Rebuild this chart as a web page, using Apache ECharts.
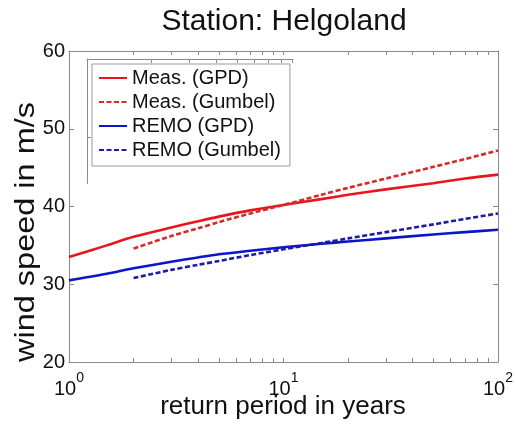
<!DOCTYPE html>
<html>
<head>
<meta charset="utf-8">
<script src="https://cdn.jsdelivr.net/npm/echarts@6/dist/echarts.min.js"></script>
<style>
  html, body { margin: 0; padding: 0; background: #fff; }
  #chart { width: 516px; height: 425px; }
</style>
</head>
<body>
<div id="chart"></div>
<script>
// Return-level curves for Helgoland (wind speed vs. return period)
const titleText = 'Station: Helgoland';
const xName = 'return period in years';
const yName = 'wind speed in m/s';
const seriesNames = ['Meas. (GPD)', 'Meas. (Gumbel)', 'REMO (GPD)', 'REMO (Gumbel)'];

// GPD fits: return period (years) and return level (m/s)
const gpdPeriods = [1, 1.5, 2, 3, 4, 5, 7, 10, 15, 20, 30, 50, 70, 100];
const measGpd    = [33.5, 35.0, 36.1, 37.3, 38.1, 38.7, 39.5, 40.2, 40.95, 41.5, 42.2, 43.0, 43.6, 44.1];
const remoGpd    = [30.5, 31.35, 32.05, 32.9, 33.45, 33.85, 34.3, 34.75, 35.2, 35.5, 35.9, 36.4, 36.7, 37.0];

// Gumbel fits start at a 2-year return period
const gumbelPeriods = [2, 3, 4, 5, 7, 10, 15, 20, 30, 50, 70, 100];
const measGumbel    = [34.6, 36.2, 37.2, 38.0, 39.1, 40.2, 41.5, 42.4, 43.6, 45.1, 46.1, 47.2];
const remoGumbel    = [30.8, 31.85, 32.5, 33.0, 33.75, 34.5, 35.3, 35.9, 36.7, 37.7, 38.4, 39.1];

// Axis ticks
const yTicks = [20, 30, 40, 50, 60];
const xTickValues = [1, 2, 3, 4, 5, 6, 7, 8, 9, 10, 20, 30, 40, 50, 60, 70, 80, 90, 100];
const xLabelValues = [1, 10, 100];

const FONT = '"Liberation Sans", Arial, Helvetica, sans-serif';
const AXIS_GRAY = '#8a8a8a';
const RED = '#e8161c';
const RED_DASH = '#d42a2a';
const BLUE = '#0c14cc';
const BLUE_DASH = '#1c1ca4';

function pairs(xs, ys) { return xs.map((x, i) => [x, ys[i]]); }

const chart = echarts.init(document.getElementById('chart'), null, { renderer: 'canvas' });

const tickStyle = { show: true, inside: true, length: 5, lineStyle: { color: AXIS_GRAY, width: 1 } };
const lineAxis = { show: true, lineStyle: { color: AXIS_GRAY, width: 1 } };

const option = {
  backgroundColor: '#fff',
  animation: false,
  graphic: [
    {
      type: 'text',
      style: { text: titleText, font: '30px ' + FONT, fill: '#111', x: 284, y: 21.5, align: 'center', verticalAlign: 'middle' }
    },
    {
      type: 'text',
      style: { text: xName, font: '26px ' + FONT, fill: '#111', x: 283, y: 407, align: 'center', verticalAlign: 'middle' }
    },
    {
      // rotated axis title, stretched along its reading direction
      type: 'text', x: 26.3, y: 232, rotation: Math.PI / 2, scaleX: 1.16,
      style: { text: yName, font: '28px ' + FONT, fill: '#111', x: 0, y: 0, align: 'center', verticalAlign: 'middle' }
    }
  ],
  grid: [
    { left: 69, top: 51, width: 430.5, height: 311, containLabel: false },
    // offset frame behind the legend box
    { left: 87, top: 59, width: 206, height: 124.4, containLabel: false }
  ],
  xAxis: [
    {
      type: 'log', gridIndex: 0, position: 'bottom', logBase: 10, min: 1, max: 100,
      axisLine: lineAxis,
      axisTick: Object.assign({}, tickStyle, { length: 4, customValues: xTickValues }),
      axisLabel: {
        customValues: xLabelValues, margin: 9,
        formatter: v => '{b|10}{s|' + Math.round(Math.log10(v)) + '}',
        rich: {
          b: { fontSize: 20, fontFamily: FONT, color: '#111', lineHeight: 28, verticalAlign: 'bottom' },
          s: { fontSize: 14, fontFamily: FONT, color: '#111', lineHeight: 10, verticalAlign: 'top' }
        }
      },
      splitLine: { show: false }
    },
    {
      type: 'log', gridIndex: 0, position: 'top', logBase: 10, min: 1, max: 100,
      axisLine: lineAxis,
      axisTick: Object.assign({}, tickStyle, { length: 4, customValues: xTickValues }),
      axisLabel: { show: false },
      splitLine: { show: false }
    },
    {
      type: 'log', gridIndex: 1, position: 'top', logBase: 10, min: 1, max: 9.08,
      axisLine: lineAxis,
      axisTick: Object.assign({}, tickStyle, { length: 4, customValues: [2, 3, 4, 5, 6, 7, 8, 9] }),
      axisLabel: { show: false },
      splitLine: { show: false }
    }
  ],
  yAxis: [
    {
      type: 'value', gridIndex: 0, position: 'left', min: 20, max: 60, interval: 10,
      axisLine: lineAxis,
      axisTick: Object.assign({}, tickStyle, { customValues: yTicks }),
      axisLabel: { customValues: yTicks, margin: 4, fontSize: 20, fontFamily: FONT, color: '#111' },
      splitLine: { show: false }
    },
    {
      type: 'value', gridIndex: 0, position: 'right', min: 20, max: 60, interval: 10,
      axisLine: lineAxis,
      axisTick: Object.assign({}, tickStyle, { customValues: yTicks }),
      axisLabel: { show: false },
      splitLine: { show: false }
    },
    {
      type: 'value', gridIndex: 1, position: 'left', min: 44, max: 60,
      axisLine: lineAxis,
      axisTick: Object.assign({}, tickStyle, { length: 4, customValues: [50] }),
      axisLabel: { show: false },
      splitLine: { show: false }
    }
  ],
  legend: {
    left: 92, top: 64, orient: 'vertical',
    itemWidth: 28, itemHeight: 14, itemGap: 4,
    padding: [4, 9, 6, 6],
    borderColor: '#9a9a9a', borderWidth: 1, backgroundColor: '#fff',
    itemStyle: { opacity: 0 },
    textStyle: { fontSize: 20, fontFamily: FONT, color: '#111', lineHeight: 20 },
    data: seriesNames
  },
  series: [
    {
      name: seriesNames[0], type: 'line', xAxisIndex: 0, yAxisIndex: 0,
      data: pairs(gpdPeriods, measGpd), smooth: 0.3, symbol: 'none',
      lineStyle: { color: RED, width: 2.6 }, itemStyle: { color: RED }
    },
    {
      name: seriesNames[1], type: 'line', xAxisIndex: 0, yAxisIndex: 0,
      data: pairs(gumbelPeriods, measGumbel), smooth: 0.3, symbol: 'none',
      lineStyle: { color: RED_DASH, width: 2.6, type: [5, 2.5] }, itemStyle: { color: RED_DASH }
    },
    {
      name: seriesNames[2], type: 'line', xAxisIndex: 0, yAxisIndex: 0,
      data: pairs(gpdPeriods, remoGpd), smooth: 0.3, symbol: 'none',
      lineStyle: { color: BLUE, width: 2.6 }, itemStyle: { color: BLUE }
    },
    {
      name: seriesNames[3], type: 'line', xAxisIndex: 0, yAxisIndex: 0,
      data: pairs(gumbelPeriods, remoGumbel), smooth: 0.3, symbol: 'none',
      lineStyle: { color: BLUE_DASH, width: 2.6, type: [5, 2.5] }, itemStyle: { color: BLUE_DASH }
    }
  ]
};

chart.setOption(option);
</script>
</body>
</html>
